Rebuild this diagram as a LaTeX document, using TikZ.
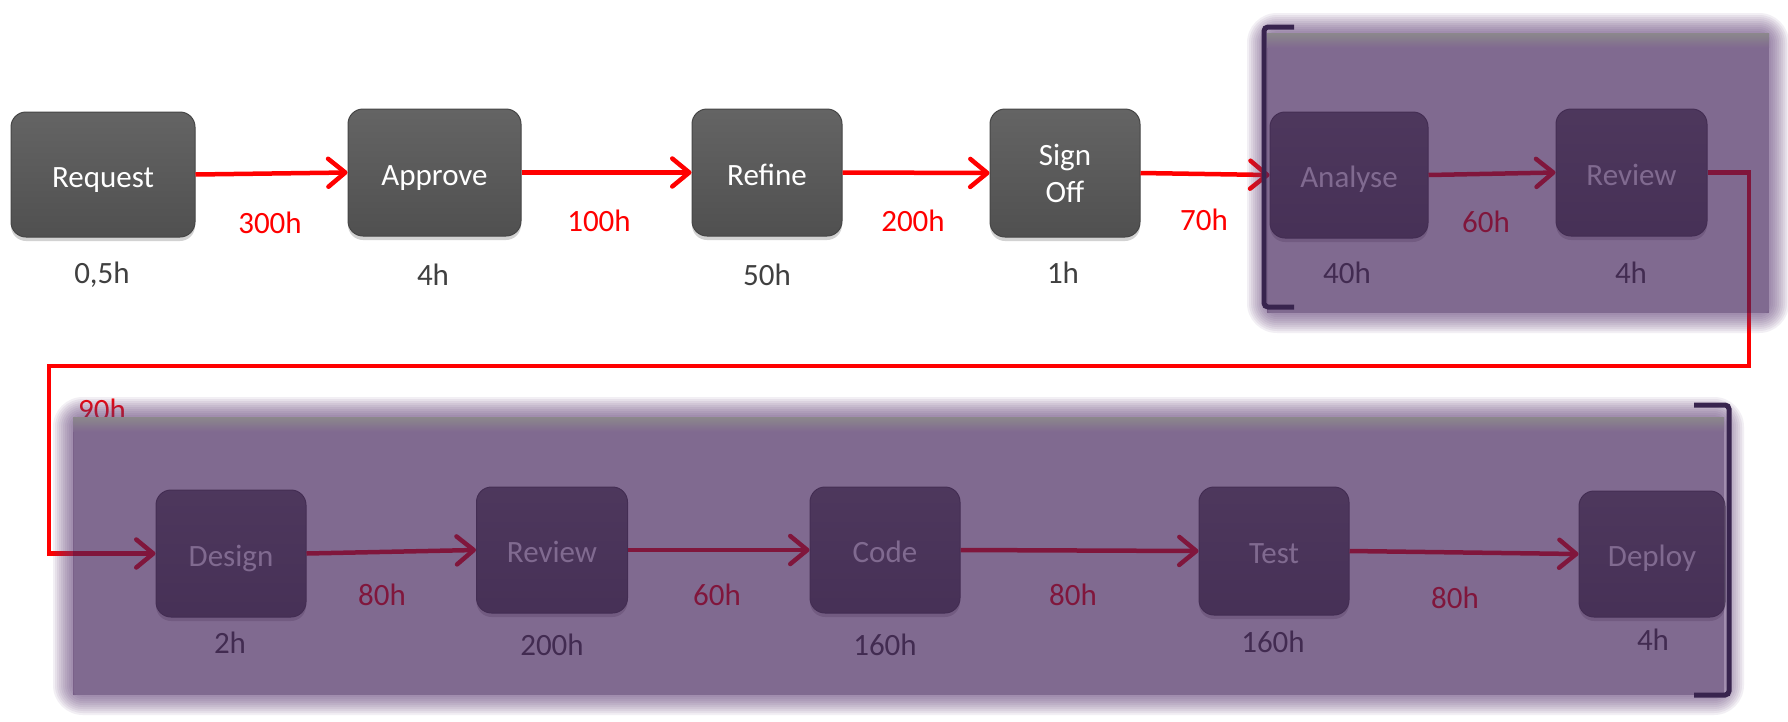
\documentclass[tikz,border=0pt]{standalone}
\usepackage{fontspec}
\setmainfont{Carlito}
\usetikzlibrary{arrows.meta,shadows}
\definecolor{boxtop}{RGB}{100,100,100}
\definecolor{boxbot}{RGB}{80,80,80}
\definecolor{boxedge}{RGB}{70,70,70}
\definecolor{lblgray}{RGB}{64,64,64}
\definecolor{ovl}{RGB}{67,34,90}
\definecolor{glowc}{RGB}{92,58,116}
\definecolor{stripgray}{RGB}{140,136,140}
\definecolor{stripbot}{RGB}{129,107,144}
\definecolor{brkc}{RGB}{56,36,78}
\definecolor{linered}{RGB}{255,0,0}
\begin{document}
\begin{tikzpicture}[x=1pt,y=-1pt,
  proc/.style={rounded corners=15pt, top color=boxtop, bottom color=boxbot,
    draw=boxedge, line width=1pt, text=white, align=center, inner sep=0pt,
    font=\fontsize{31}{37}\selectfont, minimum width=150pt, minimum height=127pt,
    drop shadow={shadow xshift=0pt, shadow yshift=-4pt, opacity=0.35}},
  oneline/.style={text height=30pt, text depth=5pt},
  lbl/.style={text=lblgray, font=\fontsize{31}{37}\selectfont, inner sep=0pt},
  elbl/.style={text=linered, font=\fontsize{31}{37}\selectfont, inner sep=0pt},
  arr/.style={draw=linered, line width=4.5pt,
    -{Straight Barb[length=17pt,width=28pt,round]}},
  brk/.style={draw=brkc, line width=5pt, rounded corners=4pt}]
\useasboundingbox (0,0) rectangle (1788,721);
\fill[white] (0,0) rectangle (1788,721);

% process boxes, upper row
\node[proc, oneline, minimum width=184pt, minimum height=125pt] (req) at (103,174.5) {Request};
\node[proc, oneline, minimum width=173pt] (app) at (434.5,172.5) {Approve};
\node[proc, oneline] (ref) at (767,172.5) {Refine};
\node[proc, minimum height=128pt] (sgn) at (1065,173) {Sign\\Off};
\node[proc, oneline, minimum width=158pt, minimum height=126pt] (ana) at (1349,175) {Analyse};
\node[proc, oneline, minimum width=151pt] (rv1) at (1631.5,172.5) {Review};
% lower row
\node[proc, oneline] (des) at (231,553.5) {Design};
\node[proc, oneline, minimum width=151pt, minimum height=126pt] (rv2) at (552,550) {Review};
\node[proc, oneline, minimum height=126pt] (cod) at (885,550) {Code};
\node[proc, oneline, minimum height=128pt] (tst) at (1274,551) {Test};
\node[proc, oneline, minimum width=146pt, minimum height=126pt] (dep) at (1652,554) {Deploy};

% durations under boxes
\node[lbl] (t1) at (102,275) {0,5h};
\node[lbl] (t2) at (433,275) {4h};
\node[lbl] (t3) at (767,275) {50h};
\node[lbl] (t4) at (1063,273) {1h};
\node[lbl] (t5) at (1347,273) {40h};
\node[lbl] (t6) at (1631,273) {4h};
\node[lbl] (t7) at (230,643) {2h};
\node[lbl] (t8) at (552,645) {200h};
\node[lbl] (t9) at (885,645) {160h};
\node[lbl] (t10) at (1273,642) {160h};
\node[lbl] (t11) at (1653,640) {4h};

% wait times on connectors
\node[elbl] (w1) at (270,223) {300h};
\node[elbl] (w2) at (599,221) {100h};
\node[elbl] (w3) at (913,221) {200h};
\node[elbl] (w4) at (1204,220) {70h};
\node[elbl] (w5) at (1486,222) {60h};
\node[elbl] (w6) at (102,410) {90h};
\node[elbl] (w7) at (382,595) {80h};
\node[elbl] (w8) at (717,595) {60h};
\node[elbl] (w9) at (1073,595) {80h};
\node[elbl] (w10) at (1455,598) {80h};

% connectors
\draw[arr] (req.east) -- (app.west);
\draw[arr] (app.east) -- (ref.west);
\draw[arr] (ref.east) -- (sgn.west);
\draw[arr] (sgn.east) -- (ana.west);
\draw[arr] (ana.east) -- (rv1.west);
\coordinate (c1) at (1749,366);
\coordinate (c2) at (49,366);
\draw[arr, rounded corners=0pt] (rv1.east) -| (c1) -- (c2) |- (des.west);
\draw[arr] (des.east) -- (rv2.west);
\draw[arr] (rv2.east) -- (cod.west);
\draw[arr] (cod.east) -- (tst.west);
\draw[arr] (tst.east) -- (dep.west);

% glows around the two groups
\foreach \e in {2,4,...,20}{
  \pgfmathsetmacro\rc{10+\e}
  \fill[glowc, opacity=0.08, even odd rule] [rounded corners=\rc pt]
    (1267-\e,33-\e) rectangle (1769+\e,313+\e)
    [sharp corners] (1267,33) rectangle (1769,313);
  \fill[glowc, opacity=0.08, even odd rule] [rounded corners=\rc pt]
    (73-\e,417-\e) rectangle (1724+\e,695+\e)
    [sharp corners] (73,417) rectangle (1724,695);
}
% tinted group areas
\fill[ovl, opacity=0.67] (1267,33) rectangle (1769,313);
\fill[ovl, opacity=0.67] (73,417) rectangle (1724,695);
\shade[top color=stripgray, bottom color=stripbot] (1267,33) rectangle (1769,47);
\shade[top color=stripgray, bottom color=stripbot] (73,417) rectangle (1724,431);

% brackets
\draw[brk] (1294,27) -- (1264,27) -- (1264,307) -- (1294,307);
\draw[brk] (1694,405) -- (1729,405) -- (1729,695) -- (1694,695);
\end{tikzpicture}
\end{document}
